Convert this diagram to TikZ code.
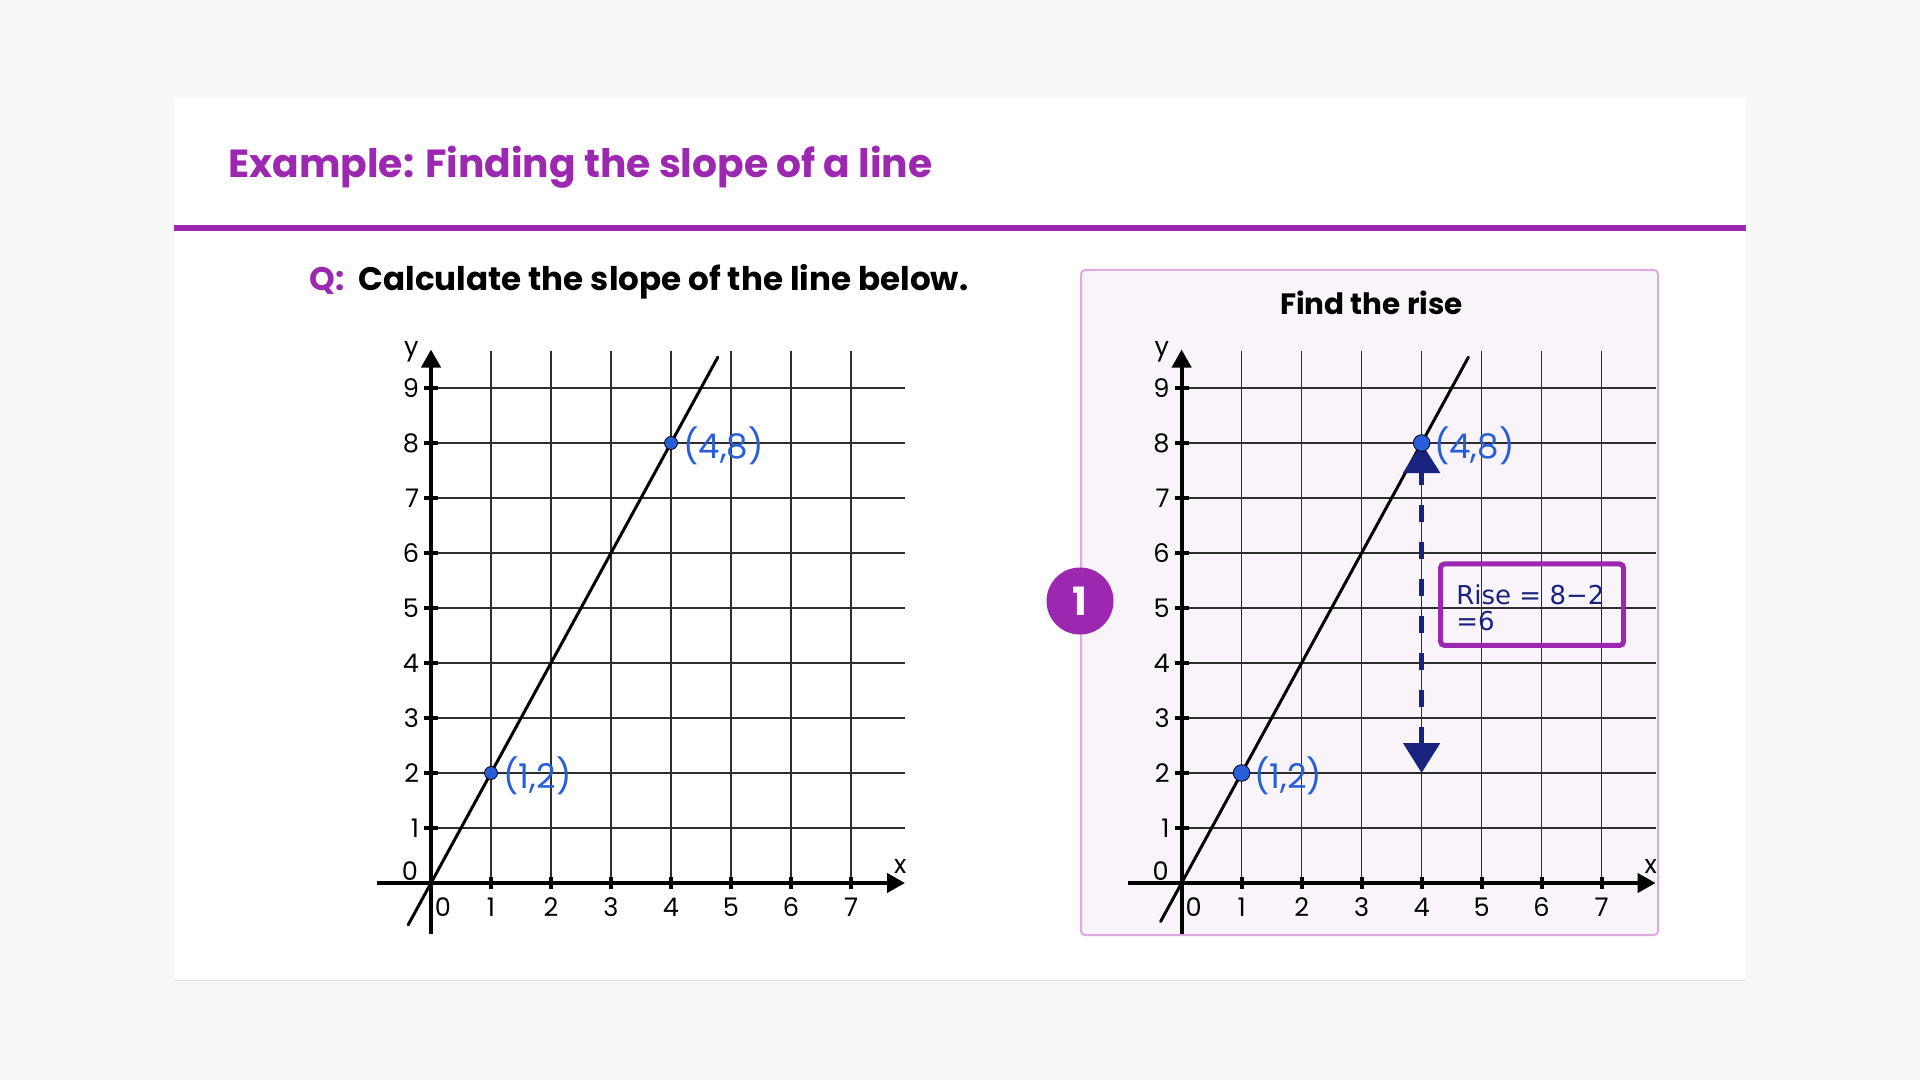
\documentclass[tikz,border=0pt]{standalone}
\usepackage{fontspec}
\setmainfont{Poppins}
\newfontfamily\risefont{DejaVu Sans}
\usetikzlibrary{arrows.meta,calc}
\usepackage{tkz-euclide}
\definecolor{BackClr}{rgb}{0.969,0.969,0.969}
\definecolor{HeadClr}{rgb}{0.612,0.153,0.690}
\definecolor{PanelClr}{rgb}{0.973,0.957,0.980}
\definecolor{PanelEdgeClr}{rgb}{0.875,0.667,0.898}
\definecolor{PointClr}{rgb}{0.161,0.369,0.851}
\definecolor{RiseClr}{rgb}{0.098,0.137,0.490}
\definecolor{GridClr}{rgb}{0.18,0.18,0.18}

\newcommand\SlopeAxes{%
  \foreach \i in {1,...,7} {\draw[gridline] (\i,0) -- (\i,9.67);}
  \foreach \j in {1,...,9} {\draw[gridline] (0,\j) -- (7.9,\j);}
  \foreach \i in {1,...,7} {\draw[tickline] (\i,-0.11) -- (\i,0.11);
    \node[ticklbl] (xl\i) at (\i,-0.44) {\i};}
  \foreach \j in {1,...,9} {\draw[tickline] (-0.11,\j) -- (0.12,\j);
    \node[ticklbl,anchor=east] (yl\j) at (-0.16,\j) {\j};}
  \draw[axisline] (-0.9,0) -- (7.9,0);
  \draw[axisline] (0,-0.93) -- (0,9.7);
  \node[ticklbl] (x0) at (0.2,-0.44) {0};
  \node[ticklbl] (y0) at (-0.35,0.22) {0};
  \node[ticklbl] (ylab) at (-0.33,9.66) {y};
  \node[ticklbl] (xlab) at (7.82,0.3) {x};
}

\begin{document}
\begin{tikzpicture}[x=0.5pt,y=-0.5pt,
  gridline/.style={GridClr,line width=0.75pt},
  tickline/.style={black,line width=2pt},
  axisline/.style={black,line width=2pt,-{Triangle[width=9.5pt,length=9pt]}},
  ticklbl/.style={inner sep=1pt,font=\fontsize{12.8}{14}\selectfont},
  ptlbl/.style={PointClr,inner sep=0,xshift=6pt,yshift=-1.5pt,font=\fontsize{17}{19}\selectfont},
  riseline/.style={RiseClr,line width=2.6pt,dash pattern=on 8.5pt off 10pt,
    {Triangle[width=18pt,length=15pt]}-{Triangle[width=18pt,length=15pt]}},
  risebox/.style={draw=HeadClr,line width=2.5pt,rounded corners=2pt,minimum width=91.5pt,minimum height=40.75pt}]
\useasboundingbox[fill=BackClr] (0,0) rectangle (1920,1080);

% card and heading
\fill[white] (174,98) rectangle (1746,980);
\draw[black!12] (174,980.5) -- (1746,980.5);
\fill[HeadClr] (174,225) rectangle (1746,231.5);
\node[anchor=base west,inner sep=0,HeadClr,font=\bfseries\fontsize{19.6}{24}\selectfont] (title) at (228,178) {Example: Finding the slope of a line};
\node[anchor=base west,inner sep=0,HeadClr,font=\bfseries\fontsize{16.3}{19}\selectfont] (qmark) at (309,291) {Q:};
\node[anchor=base west,inner sep=0,font=\bfseries\fontsize{16.3}{19}\selectfont] (question) at (358,291) {Calculate the slope of the line below.};

% panel of step 1
\draw[PanelEdgeClr,fill=PanelClr,line width=1pt,rounded corners=2pt] (1081,270) rectangle (1658,935);
\node[anchor=base,inner sep=0,font=\bfseries\fontsize{14.7}{17}\selectfont] (step) at (1371.5,315) {Find the rise};
\node[circle,fill=HeadClr,minimum size=33.5pt,inner sep=0,text=white,font=\bfseries\fontsize{19.5}{19.5}\selectfont] (badge) at (1080,601) {1};

% left graph
\coordinate (OL) at (431,883);
\begin{scope}[shift={(OL)},x=30pt,y=27.5pt]
\SlopeAxes
\tkzDefPoints{1/2/A,4/8/B}
\tkzDrawSegment[line width=1.5pt,black,add=0.46 and 0.26](A,B)
\tkzDrawPoints[size=6.5,color=black,fill=PointClr,line width=0.4pt](A,B)
\tkzLabelPoint[right,ptlbl](A){(1,2)}
\tkzLabelPoint[right,ptlbl](B){(4,8)}
\end{scope}

% right graph
\coordinate (OR) at (1181.6,883);
\begin{scope}[shift={(OR)},x=30pt,y=27.5pt]
\SlopeAxes
\tkzDefPoints{1/2/A,4/8/B,4/2/R}
\tkzDrawSegment[line width=1.5pt,black,add=0.45 and 0.26](A,B)
\draw[riseline] (R) -- (B);
\node[risebox] (rise) at (5.84,5.06) {};
\node[anchor=base west,inner sep=0,align=left,RiseClr,font=\risefont\fontsize{13}{13}\selectfont] (risetxt) at (4.573,4.582) {Rise = 8\textminus2\\=6};
\tkzDrawPoints[size=8.3,color=black,fill=PointClr,line width=0.4pt](A,B)
\tkzLabelPoint[right,ptlbl](A){(1,2)}
\tkzLabelPoint[right,ptlbl](B){(4,8)}
\end{scope}
\end{tikzpicture}
\end{document}
